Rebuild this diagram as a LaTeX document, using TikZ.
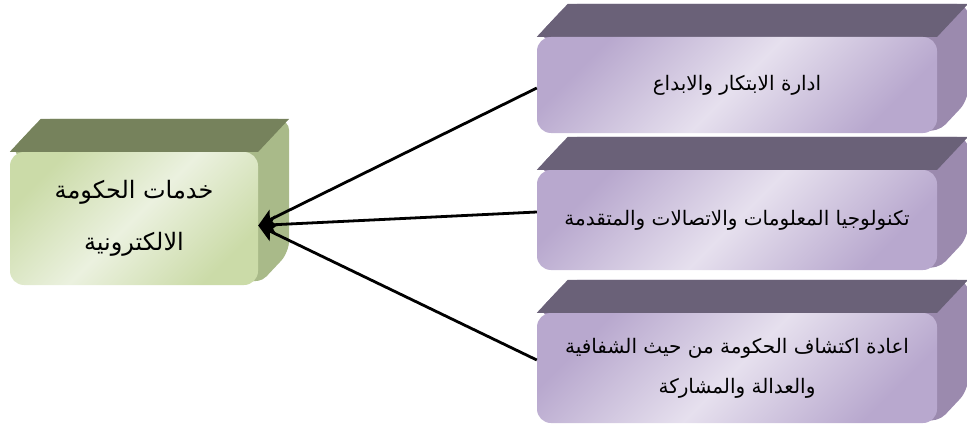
\documentclass[tikz,border=0pt]{standalone}
\usepackage{fontspec}
\newfontfamily\arabicfont[Script=Arabic]{DejaVu Sans}
\TeXXeTstate=1
\usetikzlibrary{arrows.meta,backgrounds,calc}

\definecolor{olivetop}{HTML}{76825C}
\definecolor{oliveside}{HTML}{A9BA89}
\definecolor{olivedark}{HTML}{CBDBA8}
\definecolor{olivelight}{HTML}{EBF1DF}
\definecolor{plumtop}{HTML}{6A6178}
\definecolor{plumside}{HTML}{9B8AAE}
\definecolor{plumdark}{HTML}{B8A8CE}
\definecolor{plumlight}{HTML}{E6E0EE}

% depth of the blocks: #1 node, #2 top colour, #3 side colour
\newcommand{\blockdepth}[3]{%
  \fill[#3, rounded corners=12pt] (#1.north west) -- ++(31,-33)
    -- ($(#1.north east)+(31,-33)$) -- ($(#1.south east)+(31,-33)$)
    -- (#1.south east) -- cycle;
  \fill[#2] (#1.north west) -- ++(31,-33)
    -- ($(#1.north east)+(31,-33)$) -- (#1.north east) -- cycle;
}

\begin{document}
\begin{tikzpicture}
  [x=1pt, y=-1pt,
  front/.style={rounded corners=14pt, inner sep=0pt, align=center,
    font=\arabicfont\fontsize{20}{40}\selectfont},
  greenbox/.style={front, top color=olivedark, bottom color=olivedark,
    middle color=olivelight, shading angle=45},
  purplebox/.style={front, top color=plumdark, bottom color=plumdark,
    middle color=plumlight, shading angle=45, minimum width=400pt},
  link/.style={line width=2.8pt,
    -{Stealth[length=17pt, width=18pt, inset=4pt]}}]
  \useasboundingbox (0,0) rectangle (967,428);

  \node[greenbox, minimum width=248pt, minimum height=133pt,
    font=\arabicfont\fontsize{24}{52}\selectfont] (egov) at (134,218.5)
    {\beginR خدمات الحكومة\endR\\\beginR الالكترونية\endR};
  \node[purplebox, minimum height=96pt] (innov) at (737,85)
    {\beginR ادارة الابتكار والابداع\endR};
  \node[purplebox, minimum height=100pt] (ict) at (737,220)
    {\beginR تكنولوجيا المعلومات والاتصالات والمتقدمة\endR};
  \node[purplebox, minimum height=110pt] (reinv) at (737,368)
    {\beginR اعادة اكتشاف الحكومة من حيث الشفافية\endR\\\beginR والعدالة والمشاركة\endR};

  \begin{scope}[on background layer]
    \blockdepth{egov}{olivetop}{oliveside}
    \blockdepth{innov}{plumtop}{plumside}
    \blockdepth{ict}{plumtop}{plumside}
    \blockdepth{reinv}{plumtop}{plumside}
  \end{scope}

  \draw[link] ([yshift=-3pt]innov.west) -- ([yshift=-7pt]egov.east);
  \draw[link] ([yshift=8pt]ict.west) -- ([yshift=-7pt]egov.east);
  \draw[link] ([yshift=8pt]reinv.west) -- ([yshift=-7pt]egov.east);
\end{tikzpicture}
\end{document}
